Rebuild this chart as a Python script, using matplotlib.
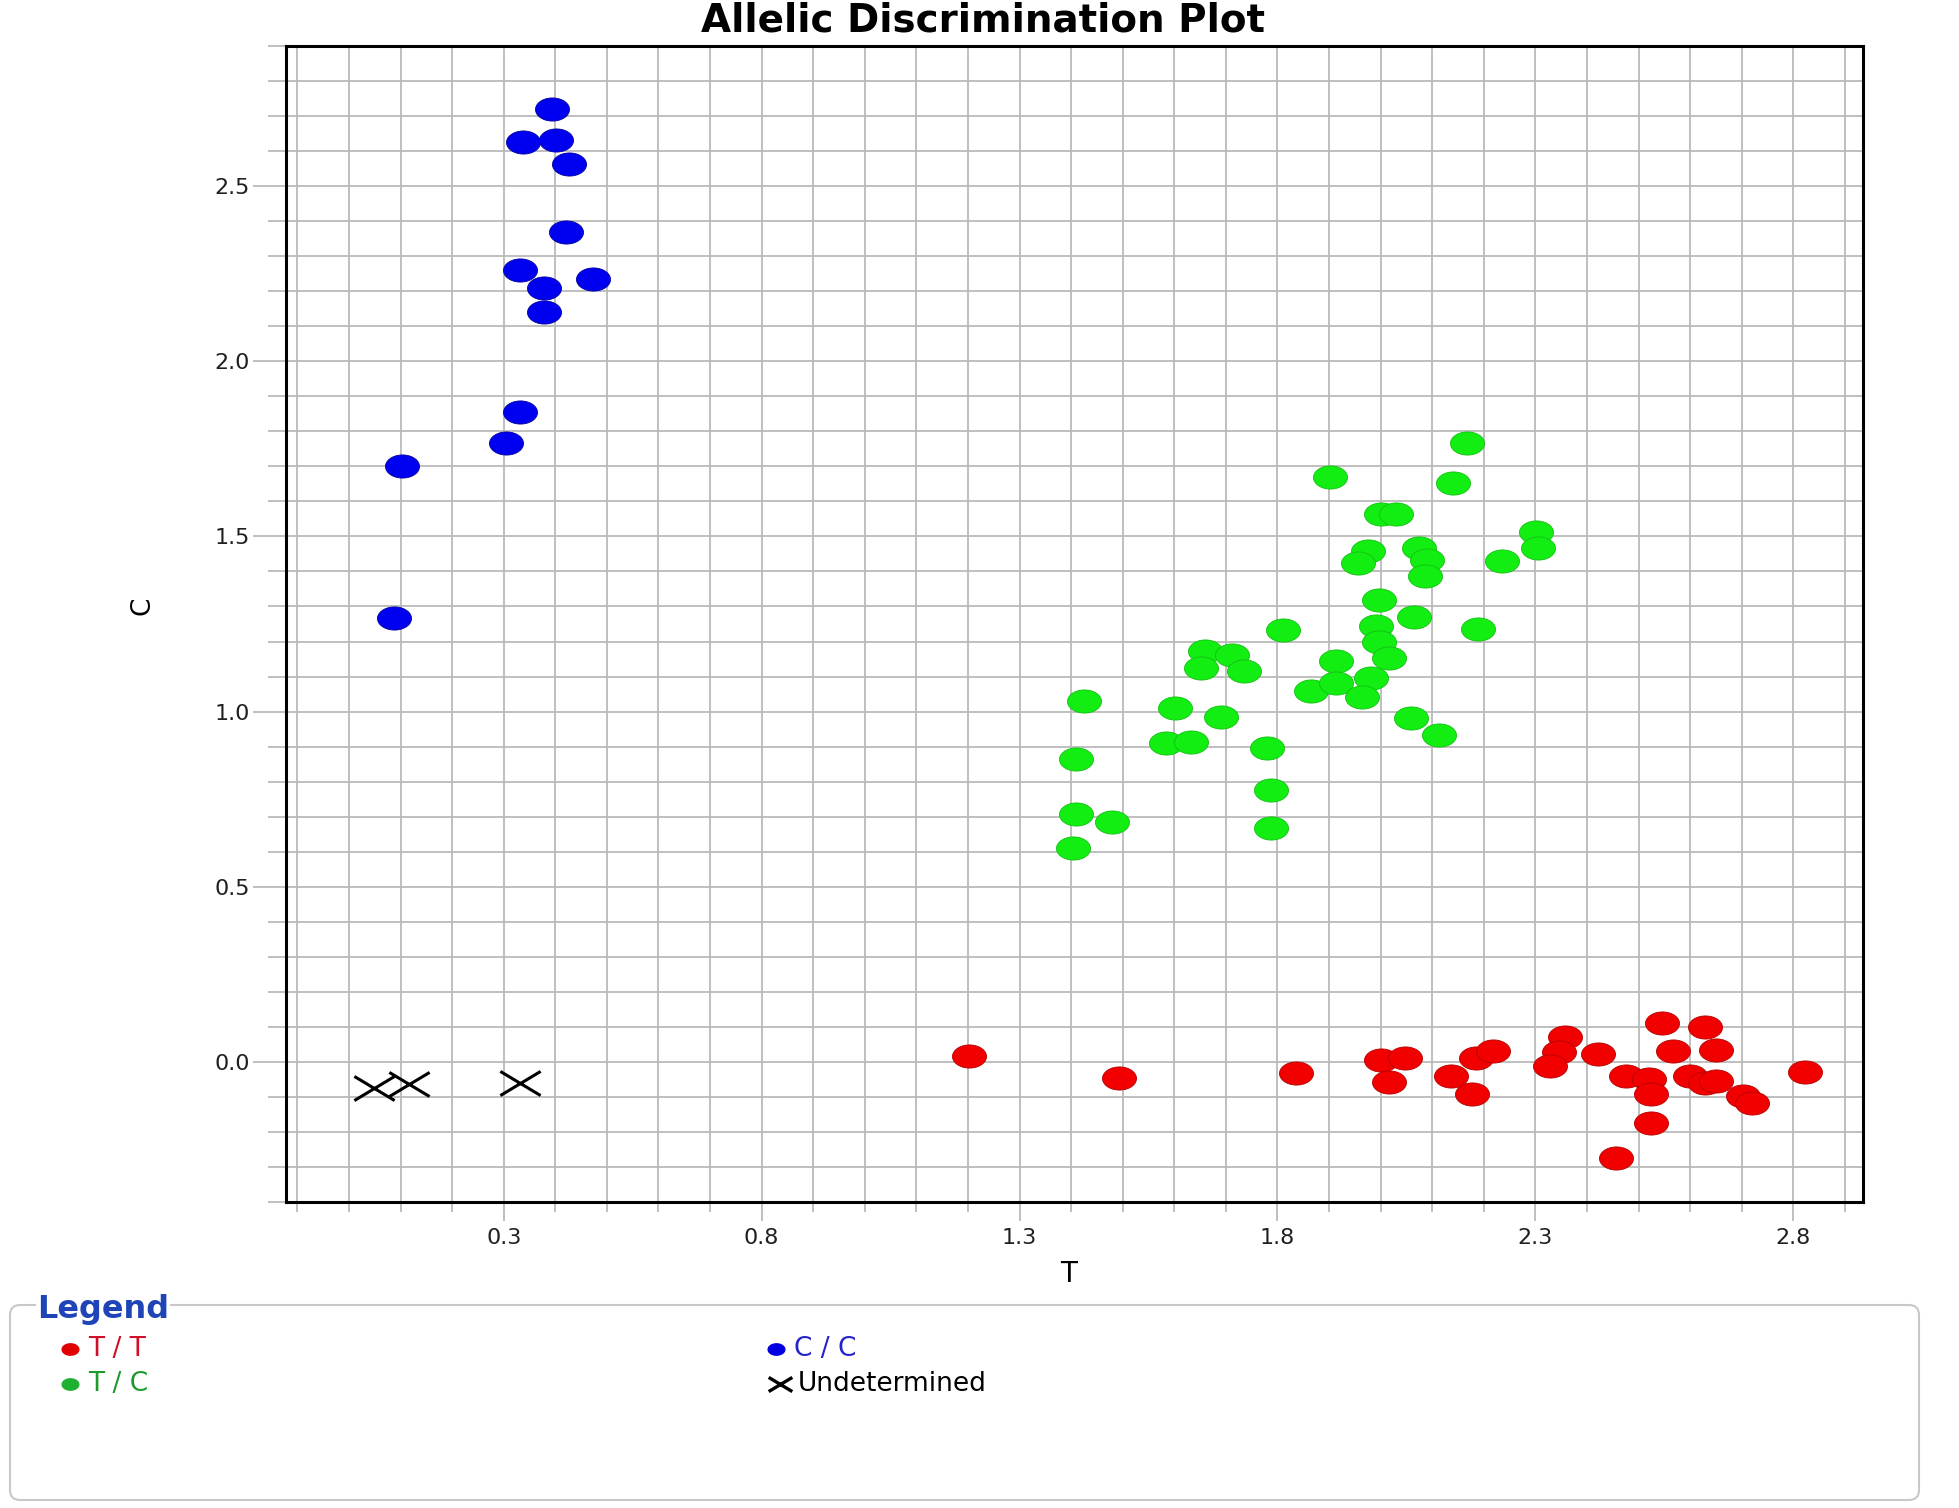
import numpy as np
import matplotlib
matplotlib.use("Agg")
from matplotlib import pyplot as plt
from matplotlib.path import Path
from matplotlib.patches import FancyBboxPatch
from matplotlib.lines import Line2D
from matplotlib.ticker import FixedLocator, MultipleLocator, FormatStrFormatter

# T / T (red)
tt_x = [1.202, 1.492, 1.836, 2.000, 2.048, 2.017, 2.136, 2.178, 2.185, 2.217,
        2.358, 2.345, 2.328, 2.422, 2.475, 2.521, 2.524, 2.524, 2.456, 2.546,
        2.566, 2.628, 2.650, 2.599, 2.628, 2.651, 2.703, 2.720, 2.822]
tt_y = [0.017, -0.047, -0.033, 0.005, 0.012, -0.057, -0.040, -0.091, 0.012, 0.032,
        0.070, 0.027, -0.011, 0.022, -0.040, -0.050, -0.093, -0.174, -0.275, 0.110,
        0.030, 0.099, 0.034, -0.040, -0.059, -0.055, -0.098, -0.117, -0.028]

# T / C (green)
tc_x = [1.810, 1.660, 1.712, 1.651, 1.735, 1.864, 1.425, 1.602, 1.691, 1.583,
        1.633, 1.780, 1.410, 1.788, 1.410, 1.479, 1.788, 1.404,
        2.167, 1.901, 2.140, 2.001, 2.029, 2.302, 2.305, 1.975, 1.956, 2.074,
        2.090, 2.086, 2.235, 1.997, 2.065, 2.188, 1.990, 1.996, 2.017, 1.914,
        1.981, 1.914, 1.964, 2.058, 2.113]
tc_y = [1.233, 1.174, 1.162, 1.124, 1.117, 1.060, 1.029, 1.010, 0.984, 0.910,
        0.914, 0.895, 0.864, 0.776, 0.707, 0.686, 0.667, 0.610,
        1.767, 1.671, 1.652, 1.564, 1.564, 1.514, 1.467, 1.457, 1.424, 1.467,
        1.433, 1.388, 1.431, 1.319, 1.269, 1.235, 1.243, 1.200, 1.152, 1.143,
        1.095, 1.081, 1.041, 0.983, 0.933]

# C / C (blue)
cc_x = [0.393, 0.337, 0.401, 0.427, 0.420, 0.331, 0.474, 0.379, 0.379, 0.332,
        0.305, 0.102, 0.088]
cc_y = [2.720, 2.626, 2.633, 2.564, 2.369, 2.261, 2.235, 2.209, 2.142, 1.855,
        1.767, 1.702, 1.267]

# Undetermined
un_x = [0.049, 0.117, 0.332]
un_y = [-0.075, -0.064, -0.059]

x_major = [0.3, 0.8, 1.3, 1.8, 2.3, 2.8]
y_major = [0.0, 0.5, 1.0, 1.5, 2.0, 2.5]

W, H = 1959, 1508
fig = plt.figure(figsize=(W / 100, H / 100), dpi=100)
ax = fig.add_axes([286 / W, 1 - 1202 / H, 1577 / W, 1156 / H])

# the original picture is stretched sideways, so the dots are ellipses
t = np.linspace(0, 2 * np.pi, 64)
ell = Path(np.column_stack([np.cos(t), 0.68 * np.sin(t)]), closed=True)
cross = Path([(-1, -0.6), (1, 0.6), (-1, 0.6), (1, -0.6)],
             [Path.MOVETO, Path.LINETO, Path.MOVETO, Path.LINETO])

ms = 24.5
ax.scatter(tt_x, tt_y, s=ms ** 2, marker=ell, c='#f20000', edgecolors='#b40000', linewidths=0.6, zorder=3)
ax.scatter(tc_x, tc_y, s=ms ** 2, marker=ell, c='#12ee12', edgecolors='#10c010', linewidths=0.6, zorder=3)
ax.scatter(cc_x, cc_y, s=ms ** 2, marker=ell, c='#0000f0', edgecolors='#0000a0', linewidths=0.6, zorder=3)
ax.plot(un_x, un_y, linestyle='none', marker=cross, markersize=29, mew=2.2,
        mfc='none', mec='black', zorder=3)

ax.set_xlim(-0.122, 2.935)
ax.set_ylim(-0.4, 2.9)
ax.xaxis.set_major_locator(FixedLocator(x_major))
ax.xaxis.set_minor_locator(MultipleLocator(0.1))
ax.yaxis.set_major_locator(FixedLocator(y_major))
ax.yaxis.set_minor_locator(MultipleLocator(0.1))
ax.xaxis.set_major_formatter(FormatStrFormatter('%.1f'))
ax.yaxis.set_major_formatter(FormatStrFormatter('%.1f'))

ax.set_axisbelow(True)
ax.grid(which='both', color='#bababa', lw=1.3)
for s in ax.spines.values():
    s.set_linewidth(2.2)
    s.set_color('black')

ax.tick_params(axis='y', which='major', length=24, width=1.3, color='#bababa',
               labelsize=16, pad=2, labelcolor='#202020')
ax.tick_params(axis='y', which='minor', length=13, width=1.3, color='#bababa')
ax.tick_params(axis='x', which='major', length=14, width=1.3, color='#bababa',
               labelsize=16, pad=5, labelcolor='#202020')
ax.tick_params(axis='x', which='minor', length=7, width=1.3, color='#bababa')

ax.set_xlabel('T', fontsize=20)
ax.set_ylabel('C', fontsize=19)
ax.xaxis.set_label_coords(0.496, -0.050)
ax.yaxis.set_label_coords(-0.083, 0.516)

fig.text(0.502, 1 - 1 / H, 'Allelic Discrimination Plot', ha='center', va='top',
         fontsize=28, fontweight='bold')

# legend panel, laid out in inches from the top-left corner
tr = fig.dpi_scale_trans


def P(px, py):
    return px / 100, (H - py) / 100


x0, y0 = P(10, 1500)
box = FancyBboxPatch((x0, y0), 1909 / 100, 195 / 100,
                     boxstyle='round,pad=0,rounding_size=0.1',
                     transform=tr, fc='white', ec='#c8c8c8', lw=1.5)
fig.add_artist(box)
fig.text(*P(37, 1318), 'Legend', transform=tr, fontsize=23, fontweight='bold',
         color='#1f44b8', va='baseline', ha='left',
         bbox=dict(fc='white', ec='none', pad=1))

leg_labels = ['T / T', 'T / C', 'C / C', 'Undetermined']
leg_marker = ['#e00000', '#20b030', '#0000e0', None]
leg_text = ['#d0102a', '#1e9a2a', '#2323c8', 'black']
leg_pos = [(70, 1349), (70, 1384), (776, 1349), (780, 1384)]

for lab, mc, tcol, (px, py) in zip(leg_labels, leg_marker, leg_text, leg_pos):
    if mc is None:
        m = Line2D([P(px, py)[0]], [P(px, py)[1]], transform=tr, marker=cross,
                   markersize=17, mew=2.4, mfc='none', mec='black', linestyle='none')
    else:
        m = Line2D([P(px, py)[0]], [P(px, py)[1]], transform=tr, marker=ell,
                   markersize=12, mfc=mc, mec=mc, linestyle='none')
    fig.add_artist(m)
    fig.text(*P(px + 18, py), lab, transform=tr, fontsize=19, color=tcol,
             va='center', ha='left')

fig.savefig('out.png', dpi=100)
